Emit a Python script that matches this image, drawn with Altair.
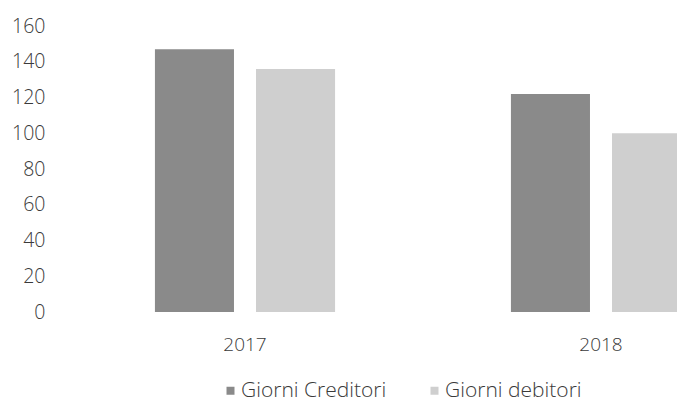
import altair as alt
import pandas as pd

anni = ["2017", "2018"]
serie = ["Giorni Creditori", "Giorni debitori"]
giorni_creditori = [147, 122]
giorni_debitori = [136, 100]
y_ticks = [0, 20, 40, 60, 80, 100, 120, 140, 160]

rows = []
for i, a in enumerate(anni):
    rows.append({"anno": a, "serie": serie[0], "giorni": giorni_creditori[i]})
    rows.append({"anno": a, "serie": serie[1], "giorni": giorni_debitori[i]})
df = pd.DataFrame(rows)

FONT = "Open Sans"
TXT = "#3a3a3a"

chart = alt.Chart(df).mark_bar(clip=True).encode(
    x=alt.X("anno:N", sort=anni,
            scale=alt.Scale(range=[0, 712], paddingInner=0.494, paddingOuter=0.247),
            axis=alt.Axis(title=None, labelAngle=0, domain=False, ticks=False,
                          labelPadding=23, labelFontSize=19, labelFont=FONT,
                          labelFontWeight=300, labelColor=TXT)),
    xOffset=alt.XOffset("serie:N", sort=serie,
                        scale=alt.Scale(paddingInner=0.218, paddingOuter=0)),
    y=alt.Y("giorni:Q", scale=alt.Scale(domain=[0, 160]),
            axis=alt.Axis(title=None, values=y_ticks, grid=False, domain=False,
                          ticks=False, labelPadding=22, labelFontSize=19.5,
                          labelFont=FONT, labelFontWeight=300, labelColor=TXT)),
    color=alt.Color("serie:N", sort=serie,
                    scale=alt.Scale(domain=serie, range=["#8a8a8a", "#cfcfcf"]),
                    legend=alt.Legend(orient="none", legendX=153, legendY=354,
                                      direction="horizontal", title=None,
                                      symbolType="square", symbolSize=64,
                                      symbolStrokeWidth=0, labelFontSize=21,
                                      labelFont=FONT, labelFontWeight=300,
                                      labelColor=TXT, columnPadding=37,
                                      labelOffset=0)),
).properties(
    width=610,
    height=286,
    autosize=alt.AutoSizeParams(type="none"),
    padding={"left": 59, "top": 18, "right": 0, "bottom": 95},
).configure_view(stroke=None)

chart.save("out.html", embed_options={"renderer": "svg", "actions": False})
